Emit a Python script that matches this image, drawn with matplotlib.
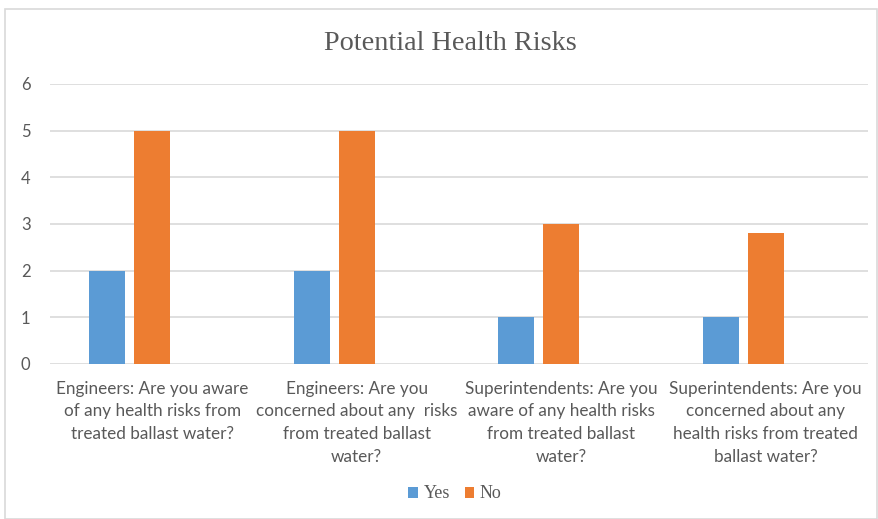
import matplotlib
matplotlib.use("Agg")
import matplotlib.pyplot as plt
from matplotlib.patches import Rectangle
import numpy as np

categories = [
    "Engineers: Are you aware\nof any health risks from\ntreated ballast water?",
    "Engineers: Are you\nconcerned about any  risks\nfrom treated ballast\nwater?",
    "Superintendents: Are you\naware of any health risks\nfrom treated ballast\nwater?",
    "Superintendents: Are you\nconcerned about any\nhealth risks from treated\nballast water?",
]
yes_vals = [2, 2, 1, 1]
no_vals = [5, 5, 3, 2.8]
series_names = ["Yes", "No"]
yticks = [0, 1, 2, 3, 4, 5, 6]

W, H = 879, 519
fig = plt.figure(figsize=(W / 100, H / 100), dpi=100)
fig.patch.set_facecolor("white")
fig.patches.append(Rectangle((5 / W, 0), (W - 7) / W, (H - 9) / H, transform=fig.transFigure,
                             fill=False, edgecolor="#d9d9d9", linewidth=1.2))

ax = fig.add_axes([50 / W, 1 - 364 / H, (868 - 50) / W, (364 - 84) / H])
x = np.arange(len(categories))
bw = 0.176
ax.bar(x - 0.22, yes_vals, bw, color="#5B9BD5", label=series_names[0], zorder=3)
ax.bar(x, no_vals, bw, color="#ED7D31", label=series_names[1], zorder=3)
ax.set_xlim(-0.5, len(categories) - 0.5)
ax.set_ylim(0, 6)
ax.set_yticks(yticks)
ax.yaxis.grid(True, color="#d9d9d9", linewidth=1.2, zorder=0)
for s in ax.spines.values():
    s.set_visible(False)
ax.tick_params(axis="both", length=0, colors="#595959")
ax.tick_params(axis="y", pad=14)
for lab in ax.get_yticklabels():
    lab.set_fontfamily("Lato")
    lab.set_fontsize(12)
ax.set_xticks(x)
ax.set_xticklabels(categories, fontfamily="Lato", fontsize=12.3, color="#595959",
                   linespacing=1.52, ha="center", va="top")
ax.tick_params(axis="x", pad=12)

fig.text(0.512, 1 - 44 / H, "Potential Health Risks", ha="center", va="center",
         fontfamily="Liberation Serif", fontsize=20.3, color="#595959")

leg = fig.legend(loc="center", bbox_to_anchor=(455 / W, 1 - 494 / H), ncol=2, frameon=False,
                 prop={"family": "Liberation Serif", "size": 13}, handlelength=0.55, handleheight=0.55,
                 handletextpad=0.3, columnspacing=0.8, labelcolor="#595959")

fig.savefig("out.png", dpi=100)
